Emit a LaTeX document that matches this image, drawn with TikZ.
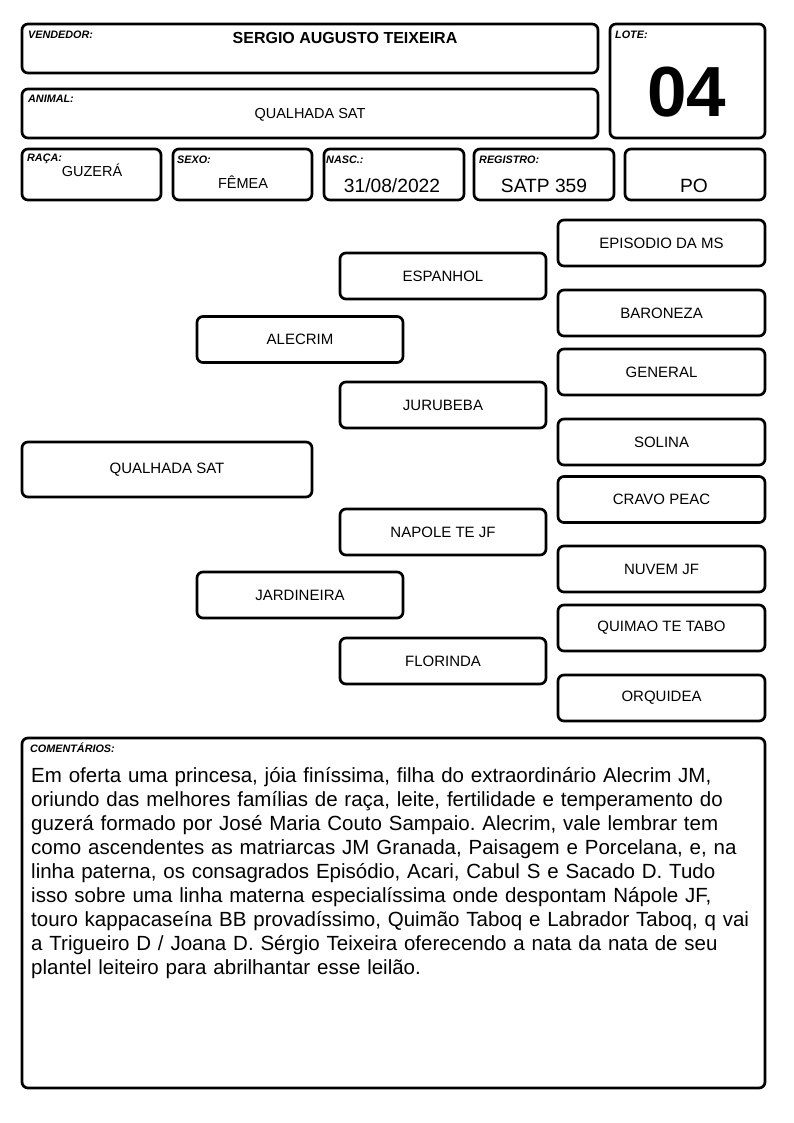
\documentclass[tikz,border=0pt]{standalone}
\usepackage{fontspec}
\setmainfont{Liberation Sans}
\frenchspacing
\begin{document}
\begin{tikzpicture}[x=1pt,y=-1pt]
\tikzset{
  box/.style={draw, line width=2.7pt, rounded corners=6pt, inner sep=0pt, outer sep=0pt, anchor=north west},
  lbl/.style={anchor=base west, inner sep=0pt, font=\fontsize{10.8}{12}\selectfont\bfseries\itshape},
  val/.style={inner sep=0pt, font=\fontsize{14.5}{17}\selectfont},
  big/.style={inner sep=0pt, font=\fontsize{19.2}{22}\selectfont},
  ped/.style={draw, line width=2.7pt, rounded corners=6pt, minimum width=206pt, minimum height=46pt, inner sep=0pt, font=\fontsize{15}{18}\selectfont},
}
\fill[white] (0,0) rectangle (794,1123);
\useasboundingbox (0,0) rectangle (794,1123);

% header boxes
\node[box, minimum width=576pt, minimum height=49pt] (vend) at (22,24) {};
\node[box, minimum width=155pt, minimum height=114pt] (lote) at (610,24) {};
\node[box, minimum width=576pt, minimum height=49pt] (anim) at (22,89) {};
\node[box, minimum width=139pt, minimum height=51pt] (raca) at (22,149) {};
\node[box, minimum width=139pt, minimum height=51pt] (sexo) at (173,149) {};
\node[box, minimum width=140pt, minimum height=51pt] (nasc) at (324,149) {};
\node[box, minimum width=140pt, minimum height=51pt] (regi) at (474,149) {};
\node[box, minimum width=140pt, minimum height=51pt] (po) at (625,149) {};

% header labels
\node[lbl] (lvend) at (28,39) {VENDEDOR:};
\node[lbl] (llote) at (615,39) {LOTE:};
\node[lbl] (lanim) at (28,103) {ANIMAL:};
\node[lbl] (lraca) at (27,162) {RAÇA:};
\node[lbl] (lsexo) at (177,164) {SEXO:};
\node[lbl] (lnasc) at (326,164) {NASC.:};
\node[lbl] (lregi) at (479,164) {REGISTRO:};

% header values
\node[inner sep=0pt, anchor=base, font=\fontsize{16}{19}\selectfont\bfseries] (tvend) at (345,43.5) {SERGIO AUGUSTO TEIXEIRA};
\node[inner sep=0pt, font=\fontsize{71}{80}\selectfont\bfseries] (tlote) at (687,92) {04};
\node[val, anchor=base] (tanim) at (310,118.5) {QUALHADA SAT};
\node[val, anchor=base] (traca) at (92,177) {GUZERÁ};
\node[val, anchor=base] (tsexo) at (243,189) {FÊMEA};
\node[big, anchor=base] (tnasc) at (392,193) {31/08/2022};
\node[big, anchor=base] (tregi) at (544,193) {SATP 359};
\node[big, anchor=base] (tpo) at (694,193) {PO};

% pedigree
\node[ped, minimum width=290pt, minimum height=55pt] (qual) at (167,469.5) {QUALHADA SAT};
\node[ped] (alec) at (300,339.5) {ALECRIM};
\node[ped] (jard) at (300,595) {JARDINEIRA};
\node[ped] (esp) at (443,276) {ESPANHOL};
\node[ped] (jur) at (443,405) {JURUBEBA};
\node[ped] (nap) at (443,532) {NAPOLE TE JF};
\node[ped] (flo) at (443,661) {FLORINDA};
\node[ped, minimum width=207pt] (epi) at (661.5,243) {EPISODIO DA MS};
\node[ped, minimum width=207pt] (bar) at (661.5,313) {BARONEZA};
\node[ped, minimum width=207pt] (gen) at (661.5,372) {GENERAL};
\node[ped, minimum width=207pt] (sol) at (661.5,442) {SOLINA};
\node[ped, minimum width=207pt] (cra) at (661.5,499.5) {CRAVO PEAC};
\node[ped, minimum width=207pt] (nuv) at (661.5,569) {NUVEM JF};
\node[ped, minimum width=207pt] (qui) at (661.5,628) {QUIMAO TE TABO};
\node[ped, minimum width=207pt] (orq) at (661.5,698) {ORQUIDEA};

% comments
\node[box, minimum width=743pt, minimum height=350pt] (com) at (22,738) {};
\node[lbl] (lcom) at (30,752) {COMENTÁRIOS:};
\node[anchor=base west, inner sep=0pt, text width=735pt, align=left, font=\fontsize{20.5}{24}\selectfont] (tcom) at (31,782)
{Em oferta uma princesa, jóia finíssima, filha do extraordinário Alecrim JM,\\
oriundo das melhores famílias de raça, leite, fertilidade e temperamento do\\
guzerá formado por José Maria Couto Sampaio. Alecrim, vale lembrar tem\\
como ascendentes as matriarcas JM Granada, Paisagem e Porcelana, e, na\\
linha paterna, os consagrados Episódio, Acari, Cabul S e Sacado D. Tudo\\
isso sobre uma linha materna especialíssima onde despontam Nápole JF,\\
touro kappacaseína BB provadíssimo, Quimão Taboq e Labrador Taboq, q vai\\
a Trigueiro D / Joana D. Sérgio Teixeira oferecendo a nata da nata de seu\\
plantel leiteiro para abrilhantar esse leilão.};
\end{tikzpicture}
\end{document}
